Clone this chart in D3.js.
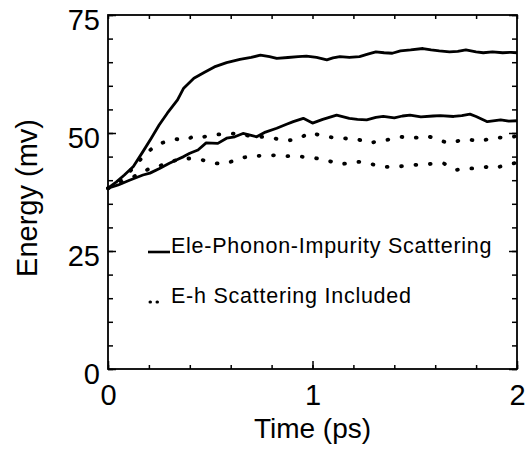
<!DOCTYPE html>
<html>
<head>
<meta charset="utf-8">
<script src="https://cdn.jsdelivr.net/npm/d3@7"></script>
<style>
  body { margin: 0; background: #fff; }
  svg { display: block; font-family: "Liberation Sans", Arial, Helvetica, sans-serif; }
</style>
</head>
<body>
<div id="chart"></div>
<script>
// upper solid curve (ele-phonon-impurity)
const tSolidHi = [0, 0.04, 0.08, 0.124, 0.17, 0.21, 0.25, 0.29, 0.34, 0.37, 0.42, 0.47, 0.52, 0.58, 0.645, 0.7, 0.745, 0.79, 0.825, 0.88, 0.93, 0.97, 1.02, 1.07, 1.1, 1.134, 1.18, 1.23, 1.27, 1.31, 1.35, 1.39, 1.43, 1.48, 1.54, 1.58, 1.62, 1.67, 1.71, 1.75, 1.8, 1.835, 1.88, 1.93, 1.97, 2.0];
const eSolidHi = [38.3, 39.6, 41.1, 42.9, 46.0, 48.8, 51.7, 54.2, 57.0, 59.5, 61.6, 62.8, 64.0, 64.9, 65.6, 66.0, 66.5, 66.2, 65.8, 66.0, 66.2, 66.3, 66.0, 65.5, 65.9, 66.2, 66.0, 66.2, 66.7, 67.2, 67.0, 66.9, 67.4, 67.6, 67.9, 67.6, 67.4, 67.2, 67.3, 67.6, 67.2, 67.0, 67.2, 67.0, 67.1, 67.0];

// lower solid curve
const tSolidLo = [0, 0.05, 0.105, 0.171, 0.205, 0.252, 0.3, 0.334, 0.37, 0.4, 0.44, 0.48, 0.537, 0.58, 0.62, 0.66, 0.7, 0.727, 0.77, 0.825, 0.87, 0.906, 0.955, 1.0, 1.05, 1.118, 1.18, 1.22, 1.265, 1.31, 1.346, 1.4, 1.44, 1.477, 1.53, 1.59, 1.625, 1.69, 1.73, 1.77, 1.8, 1.855, 1.92, 1.96, 2.0];
const eSolidLo = [38.3, 39.0, 40.0, 41.1, 41.5, 42.5, 43.6, 44.3, 45.0, 45.7, 46.4, 47.9, 47.8, 48.9, 49.2, 49.9, 49.5, 49.2, 50.2, 51.0, 51.8, 52.4, 53.1, 52.1, 52.9, 53.8, 53.1, 52.9, 52.8, 53.3, 53.5, 53.2, 53.6, 53.8, 53.4, 53.6, 53.7, 53.5, 53.7, 54.0, 53.5, 52.4, 52.8, 52.5, 52.6];

// upper dotted curve (e-h scattering included)
const tDotHi = [0, 0.05, 0.1, 0.15, 0.19, 0.237, 0.285, 0.334, 0.38, 0.424, 0.47, 0.522, 0.58, 0.64, 0.69, 0.743, 0.8, 0.86, 0.906, 0.95, 0.988, 1.03, 1.07, 1.135, 1.217, 1.28, 1.36, 1.43, 1.49, 1.56, 1.66, 1.71, 1.76, 1.81, 1.85, 1.9, 1.95, 2.0];
const eDotHi = [38.3, 39.5, 41.5, 44.0, 45.8, 47.5, 48.2, 48.7, 48.5, 49.4, 49.2, 49.6, 49.9, 49.8, 49.4, 49.2, 49.0, 48.4, 48.5, 49.2, 50.1, 49.6, 49.2, 48.9, 48.7, 47.9, 48.5, 49.2, 48.9, 49.4, 47.9, 48.3, 48.7, 48.2, 48.6, 49.1, 48.9, 49.4];

// lower dotted curve
const tDotLo = [0, 0.05, 0.1, 0.15, 0.205, 0.25, 0.287, 0.33, 0.368, 0.417, 0.47, 0.515, 0.556, 0.6, 0.645, 0.694, 0.76, 0.825, 0.88, 0.94, 1.0, 1.07, 1.134, 1.18, 1.23, 1.3, 1.36, 1.42, 1.49, 1.56, 1.64, 1.705, 1.76, 1.8, 1.85, 1.89, 1.94, 2.0];
const eDotLo = [38.3, 39.2, 40.2, 41.3, 42.5, 43.0, 43.6, 44.2, 44.6, 44.6, 44.2, 43.7, 43.4, 43.9, 44.6, 45.1, 45.2, 45.3, 45.1, 45.0, 44.8, 44.2, 43.4, 43.6, 43.9, 43.3, 42.8, 42.9, 43.2, 43.4, 43.6, 42.2, 42.5, 42.5, 42.8, 42.5, 43.2, 43.7];

const xTicks = [0, 1, 2];
const yTicks = [0, 25, 50, 75];
const legendLabels = ["Ele-Phonon-Impurity Scattering", "E-h Scattering Included"];

const W = 532, H = 454;
const margin = { top: 15, right: 15, bottom: 85, left: 108 };
const width = W - margin.left - margin.right;
const height = H - margin.top - margin.bottom;

const svg = d3.select("#chart").append("svg")
  .attr("width", W)
  .attr("height", H);

const chart = svg.append("g")
  .attr("transform", `translate(${margin.left},${margin.top})`);

const x = d3.scaleLinear().domain([0, 2]).range([0, width]);
const y = d3.scaleLinear().domain([0, 75]).range([height, 0]);

// minor ticks, all four sides, pointing inward
const minorX = d3.range(0, 2.001, 0.2);
const minorY = d3.range(0, 75.1, 5);
chart.append("g").attr("transform", `translate(0,${height})`)
  .call(d3.axisBottom(x).tickValues(minorX).tickSize(-4).tickFormat(""));
chart.append("g")
  .call(d3.axisTop(x).tickValues(minorX).tickSize(-4).tickFormat(""));
chart.append("g")
  .call(d3.axisLeft(y).tickValues(minorY).tickSize(-5).tickFormat(""));
chart.append("g").attr("transform", `translate(${width},0)`)
  .call(d3.axisRight(y).tickValues(minorY).tickSize(-5).tickFormat(""));

// major ticks with labels
const xAxis = chart.append("g").attr("transform", `translate(0,${height})`)
  .call(d3.axisBottom(x).tickValues(xTicks).tickSize(-8).tickPadding(15).tickFormat(d3.format("d")));
const yAxis = chart.append("g")
  .call(d3.axisLeft(y).tickValues(yTicks).tickSize(-8).tickPadding(8).tickFormat(d3.format("d")));
chart.append("g").attr("transform", `translate(${width},0)`)
  .call(d3.axisRight(y).tickValues(yTicks).tickSize(-8).tickFormat(""));

chart.selectAll(".domain").remove();
chart.selectAll(".tick line").attr("stroke", "#000").attr("stroke-width", 1.5);
[xAxis, yAxis].forEach(a => a.selectAll("text")
  .attr("fill", "#000")
  .style("font-size", "29px")
  .style("font-family", "'Liberation Sans', Arial, sans-serif"));
yAxis.selectAll("text").attr("dy", "0.5em");

// frame
chart.append("rect")
  .attr("width", width)
  .attr("height", height)
  .attr("fill", "none")
  .attr("stroke", "#000")
  .attr("stroke-width", 1.8);

const line = d3.line()
  .x(d => x(d[0]))
  .y(d => y(d[1]));

const series = [
  { t: tSolidHi, e: eSolidHi, dotted: false },
  { t: tSolidLo, e: eSolidLo, dotted: false },
  { t: tDotHi, e: eDotHi, dotted: true },
  { t: tDotLo, e: eDotLo, dotted: true }
];

series.forEach(s => {
  chart.append("path")
    .datum(d3.zip(s.t, s.e))
    .attr("fill", "none")
    .attr("stroke", "#000")
    .attr("stroke-width", s.dotted ? 3.8 : 2.8)
    .attr("stroke-linecap", s.dotted ? "round" : "butt")
    .attr("stroke-linejoin", "round")
    .attr("stroke-dasharray", s.dotted ? "0.8 13.6" : null)
    .attr("d", line);
});

// legend
svg.append("line")
  .attr("x1", 148).attr("x2", 170)
  .attr("y1", 252).attr("y2", 252)
  .attr("stroke", "#000")
  .attr("stroke-width", 2.6);
svg.append("line")
  .attr("x1", 150).attr("x2", 158)
  .attr("y1", 302).attr("y2", 302)
  .attr("stroke", "#000")
  .attr("stroke-width", 3)
  .attr("stroke-linecap", "round")
  .attr("stroke-dasharray", "0.5 6.5");

legendLabels.forEach((label, i) => {
  svg.append("text")
    .attr("x", 171)
    .attr("y", 253 + i * 50)
    .style("font-size", "21.5px")
    .style("letter-spacing", "0.75px")
    .text(label);
});

// axis titles
svg.append("text")
  .attr("x", margin.left + width / 2)
  .attr("y", 438)
  .attr("text-anchor", "middle")
  .style("font-size", "28px")
  .text("Time (ps)");

svg.append("text")
  .attr("transform", "rotate(-90)")
  .attr("x", -198)
  .attr("y", 37)
  .attr("text-anchor", "middle")
  .style("font-size", "29px")
  .text("Energy (mv)");
</script>
</body>
</html>
